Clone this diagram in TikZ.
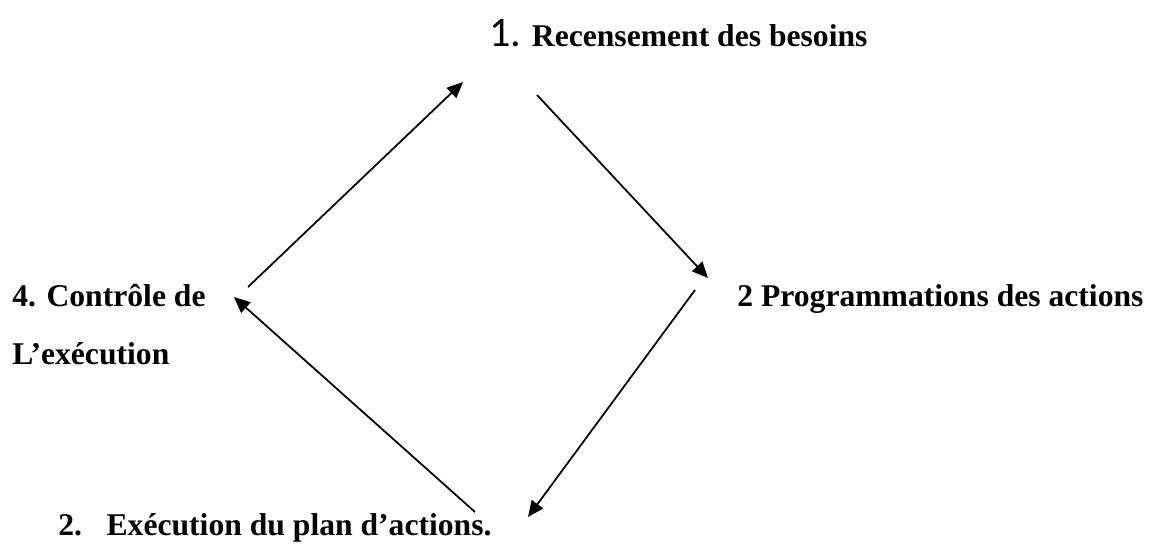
\documentclass[tikz,border=0pt]{standalone}
\usepackage{fontspec}
\setmainfont{Liberation Serif}
\newfontfamily\numfont{Carlito}
\usetikzlibrary{arrows.meta}

\begin{document}
\begin{tikzpicture}[x=0.02cm, y=-0.02cm,
  etape/.style={anchor=base west, inner sep=0pt, font=\bfseries\fontsize{18}{22}\selectfont},
  fleche/.style={-{Triangle[length=3.2mm, width=2.8mm]}, line width=1pt}]
\useasboundingbox (0,0) rectangle (1152,544);
% les quatre etapes
\node [etape] (recens) at (489,47) {{\mdseries\numfont\fontsize{24}{28}\selectfont 1.} Recensement des besoins};
\node [etape] (prog) at (737,306) {2 Programmations des actions};
\node [etape] (exec) at (58,535) {2.\hspace{14pt}Exécution du plan d’actions.};
\node [etape] (ctrl) at (12,306) {4. Contrôle de};
\node [etape] (ctrlb) at (12,364) {L’exécution};
% extremites des fleches
\coordinate (c1) at (248,287);
\coordinate (r1) at (463,82);
\coordinate (r2) at (537,95);
\coordinate (p1) at (708,278);
\coordinate (p2) at (695,290);
\coordinate (e1) at (528,517);
\coordinate (e2) at (475,512);
\coordinate (c2) at (234,297);
\draw [fleche] (c1) -- (r1);
\draw [fleche] (r2) -- (p1);
\draw [fleche] (p2) -- (e1);
\draw [fleche] (e2) -- (c2);
\end{tikzpicture}
\end{document}
